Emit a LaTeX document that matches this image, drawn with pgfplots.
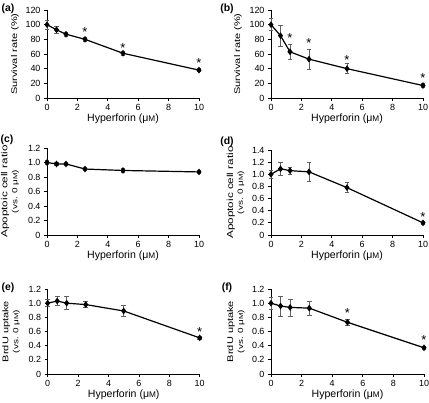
\documentclass[border=0pt]{standalone}
\usepackage{fontspec}
\setmainfont{Liberation Sans}
\usepackage{pgfplots}
\pgfplotsset{compat=1.18}
\newcommand{\uM}{μ\scalebox{0.78}{M}}
\newcommand{\yst}[1]{\scalebox{1.33}[1]{#1}}
\tikzset{astk/.style={anchor=north, inner sep=0pt, font=\fontsize{13}{13}\selectfont}}
\pgfplotsset{
  panel/.style={
    scale only axis, width=152bp, clip=false,
    xmin=0, xmax=10, ymin=0,
    axis x line*=bottom, axis y line*=left,
    axis line style={-, line width=0.9bp},
    tick align=outside, major tick length=3bp,
    tick style={black, line width=0.8bp},
    xtick={0,2,...,10},
    ticklabel style={font=\fontsize{9}{10}\selectfont},
    /pgf/number format/assume math mode=true,
    xlabel={Hyperforin (\uM)},
    xlabel style={at={(axis description cs:0.5,0)}, yshift=-21bp, anchor=center, font=\fontsize{10.6}{13}\selectfont},
    ylabel style={anchor=center, align=center, font=\fontsize{8.3}{10}\selectfont},
  },
  ylab/.style={ylabel style={at={(axis description cs:#1,0.5)}}},
  ser/.style={black, line width=1.2bp, mark=diamond*, mark size=2.4bp, mark options={solid, fill=black},
    error bars/.cd, y dir=both, y explicit,
    error bar style={gray!75!black, line width=0.6bp},
    error mark options={rotate=90, gray!75!black, mark size=2.4bp, line width=0.6bp}},
}
\newcommand{\vsl}{\yst{\fontsize{7.5}{10}\selectfont(vs. 0 \uM)}}
\newcommand{\apo}{\yst{\fontsize{8.8}{10}\selectfont Apoptoic cell ratio}}
\begin{document}
\begin{tikzpicture}
\useasboundingbox (0bp,0bp) rectangle (429bp,403bp);
% (a)
\begin{axis}[panel, at={(47bp,305bp)}, anchor=south west, height=88bp, ymax=120,
  ytick={0,20,...,120}, ylabel={\yst{Survival rate (\%)}}, ylab=-0.21]
\addplot+[ser] table[x=x,y=y,y error=e,row sep=\\] {x y e\\ 0 100 6\\ 0.625 93 4.5\\ 1.25 87 2.7\\ 2.5 80 2.7\\ 5 61 2.7\\ 10 38 2\\};
\node[astk] at (axis cs:2.5,96) {*};
\node[astk] at (axis cs:5,75) {*};
\node[astk] at (axis cs:10,53.5) {*};
\end{axis}
% (b)
\begin{axis}[panel, at={(271bp,305bp)}, anchor=south west, height=88bp, ymax=120,
  ytick={0,20,...,120}, ylabel={\yst{Survival rate (\%)}}, ylab=-0.217]
\addplot+[ser] table[x=x,y=y,y error=e,row sep=\\] {x y e\\ 0 100 8\\ 0.625 85 14\\ 1.25 63 10\\ 2.5 53 14\\ 5 40 7\\ 10 17 3\\};
\node[astk] at (axis cs:1.25,88) {*};
\node[astk] at (axis cs:2.5,81) {*};
\node[astk] at (axis cs:5,58.5) {*};
\node[astk] at (axis cs:10,33.5) {*};
\end{axis}
% (c)
\begin{axis}[panel, at={(47bp,168bp)}, anchor=south west, height=87bp, ymax=1.2,
  ytick={0,0.2,0.4,0.6,0.8,1.0,1.2}, yticklabels={0,0.2,0.4,0.6,0.8,1.0,1.2},
  ylabel={\apo\\\vsl}, ylab=-0.243]
\addplot+[ser] table[x=x,y=y,y error=e,row sep=\\] {x y e\\ 0 1.0 0.03\\ 0.625 0.98 0.02\\ 1.25 0.98 0.02\\ 2.5 0.91 0.02\\ 5 0.89 0.03\\ 10 0.87 0.02\\};
\end{axis}
% (d)
\begin{axis}[panel, at={(271bp,168bp)}, anchor=south west, height=85bp, ymax=1.4,
  ytick={0,0.2,0.4,0.6,0.8,1.0,1.2,1.4}, yticklabels={0,0.2,0.4,0.6,0.8,1.0,1.2,1.4},
  ylabel={\apo\\\vsl}, ylab=-0.233]
\addplot+[ser] table[x=x,y=y,y error=e,row sep=\\] {x y e\\ 0 1.0 0.07\\ 0.625 1.09 0.11\\ 1.25 1.06 0.06\\ 2.5 1.04 0.15\\ 5 0.78 0.08\\ 10 0.2 0.02\\};
\node[astk] at (axis cs:10,0.365) {*};
\end{axis}
% (e)
\begin{axis}[panel, at={(47.7bp,29bp)}, anchor=south west, height=85bp, ymax=1.2,
  ytick={0,0.2,0.4,0.6,0.8,1.0,1.2}, yticklabels={0,0.2,0.4,0.6,0.8,1.0,1.2},
  ylabel={\yst{BrdU uptake}\\\vsl}, ylab=-0.24]
\addplot+[ser] table[x=x,y=y,y error=e,row sep=\\] {x y e\\ 0 1.0 0.05\\ 0.625 1.03 0.06\\ 1.25 1.0 0.09\\ 2.5 0.98 0.04\\ 5 0.89 0.08\\ 10 0.51 0.02\\};
\node[astk] at (axis cs:10,0.66) {*};
\end{axis}
% (f)
\begin{axis}[panel, at={(271bp,29bp)}, anchor=south west, width=153bp, height=85bp, ymax=1.2,
  ytick={0,0.2,0.4,0.6,0.8,1.0,1.2}, yticklabels={0,0.2,0.4,0.6,0.8,1.0,1.2},
  ylabel={\yst{BrdU uptake}\\\vsl}, ylab=-0.23]
\addplot+[ser] table[x=x,y=y,y error=e,row sep=\\] {x y e\\ 0 1.0 0.08\\ 0.625 0.96 0.14\\ 1.25 0.94 0.12\\ 2.5 0.93 0.1\\ 5 0.73 0.04\\ 10 0.37 0.02\\};
\node[astk] at (axis cs:5,0.92) {*};
\node[astk] at (axis cs:10,0.54) {*};
\end{axis}
% panel labels
\begin{scope}[every node/.style={font=\bfseries\fontsize{10.5}{12}\selectfont, inner sep=0pt}]
\node at (8bp,394bp) {(a)};
\node at (227bp,394bp) {(b)};
\node at (7bp,263bp) {(c)};
\node at (227bp,261bp) {(d)};
\node at (8bp,115bp) {(e)};
\node at (227bp,115bp) {(f)};
\end{scope}
\end{tikzpicture}
\end{document}
